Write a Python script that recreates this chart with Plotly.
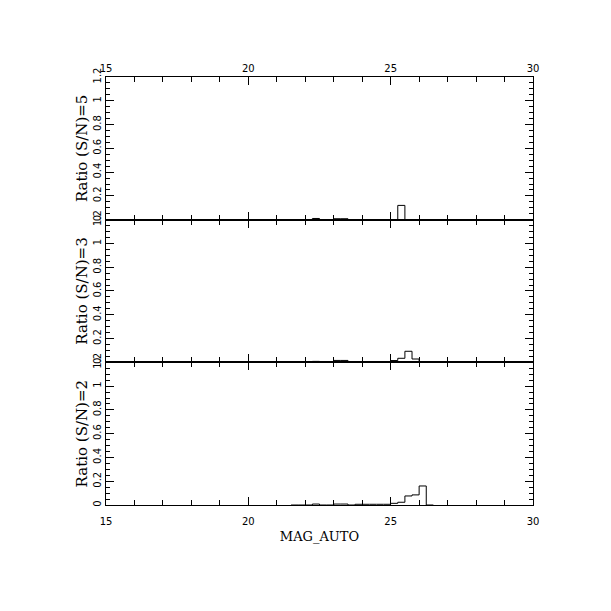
import plotly.graph_objects as go

# Bin left edges (width 0.25 mag); last entry closes the final bin
bin_left = [21.5, 21.75, 22.0, 22.25, 22.5, 22.75, 23.0, 23.25, 23.5, 23.75,
            24.0, 24.25, 24.5, 24.75, 25.0, 25.25, 25.5, 25.75, 26.0, 26.25, 26.5]

ratio_sn5 = [0, 0, 0, 0.010, 0, 0, 0.008, 0.008, 0, 0,
             0, 0, 0, 0, 0, 0.12, 0, 0, 0, 0, 0]
ratio_sn3 = [0.006, 0.006, 0, 0.008, 0, 0, 0.016, 0.016, 0.005, 0.005,
             0.005, 0.005, 0.005, 0.005, 0.015, 0.034, 0.093, 0.028, 0, 0, 0]
ratio_sn2 = [0, 0, 0, 0.008, 0, 0, 0.008, 0.008, 0, 0.006,
             0.006, 0.006, 0.006, 0.006, 0.014, 0.023, 0.076, 0.085, 0.16, 0, 0]

x_ticks = [15, 20, 25, 30]
y_ticks = [0, 0.2, 0.4, 0.6, 0.8, 1.0, 1.2]
y_ticktext = ["0", "0.2", "0.4", "0.6", "0.8", "1", "1.2"]
y_titles = ["Ratio (S/N)=2", "Ratio (S/N)=3", "Ratio (S/N)=5"]

fig = go.Figure()
series = [ratio_sn2, ratio_sn3, ratio_sn5]
for i, vals in enumerate(series):
    sfx = "" if i == 0 else str(i + 1)
    fig.add_trace(go.Scatter(x=bin_left, y=vals, mode="lines",
                             line=dict(shape="hv", color="black", width=1),
                             xaxis="x" + sfx, yaxis="y" + sfx, showlegend=False,
                             hoverinfo="skip"))

tickfont = dict(family="DejaVu Sans", size=10, color="black")
xtitlefont = dict(family="DejaVu Serif", size=13, color="black")
ytitlefont = dict(family="DejaVu Serif", size=15, color="black")

def xax(anchor, labels, side="bottom", title=None, standoff=None):
    d = dict(domain=[0, 1], anchor=anchor, range=[15, 30], tickmode="array",
             tickvals=x_ticks, ticks="inside", ticklen=8, tickwidth=1, tickcolor="black",
             minor=dict(tickmode="linear", tick0=15, dtick=1, ticks="inside", ticklen=5,
                        tickwidth=1, tickcolor="black", showgrid=False),
             showline=True, linecolor="black", linewidth=1, mirror="ticks",
             showgrid=False, zeroline=False, showticklabels=labels, side=side,
             tickfont=tickfont)
    if standoff is not None:
        d["ticklabelstandoff"] = standoff
    if title:
        d["title"] = dict(text=title, font=xtitlefont, standoff=5)
    return d

def yax(anchor, dom, title):
    return dict(domain=dom, anchor=anchor, range=[0, 1.2], tickmode="array",
                tickvals=y_ticks, ticktext=y_ticktext, ticks="inside", ticklen=8,
                tickwidth=1, tickcolor="black",
                minor=dict(tickmode="linear", tick0=0, dtick=0.05, ticks="inside",
                           ticklen=4, tickwidth=1, tickcolor="black", showgrid=False),
                showline=True, linecolor="black", linewidth=1, mirror="ticks",
                showgrid=False, zeroline=False, tickangle=-90, tickfont=tickfont,
                title=dict(text=title, font=ytitlefont, standoff=0))

fig.update_layout(
    width=603, height=603,
    margin=dict(l=98, r=78, t=69, b=106, autoexpand=False),
    paper_bgcolor="white", plot_bgcolor="white",
    xaxis=xax("y", True, title="MAG_AUTO", standoff=7),
    xaxis2=xax("y2", False),
    xaxis3=xax("y3", True, side="top"),
    yaxis=yax("x", [0, 1/3], y_titles[0]),
    yaxis2=yax("x2", [1/3, 2/3], y_titles[1]),
    yaxis3=yax("x3", [2/3, 1], y_titles[2]),
)

fig.write_html("out.html")
